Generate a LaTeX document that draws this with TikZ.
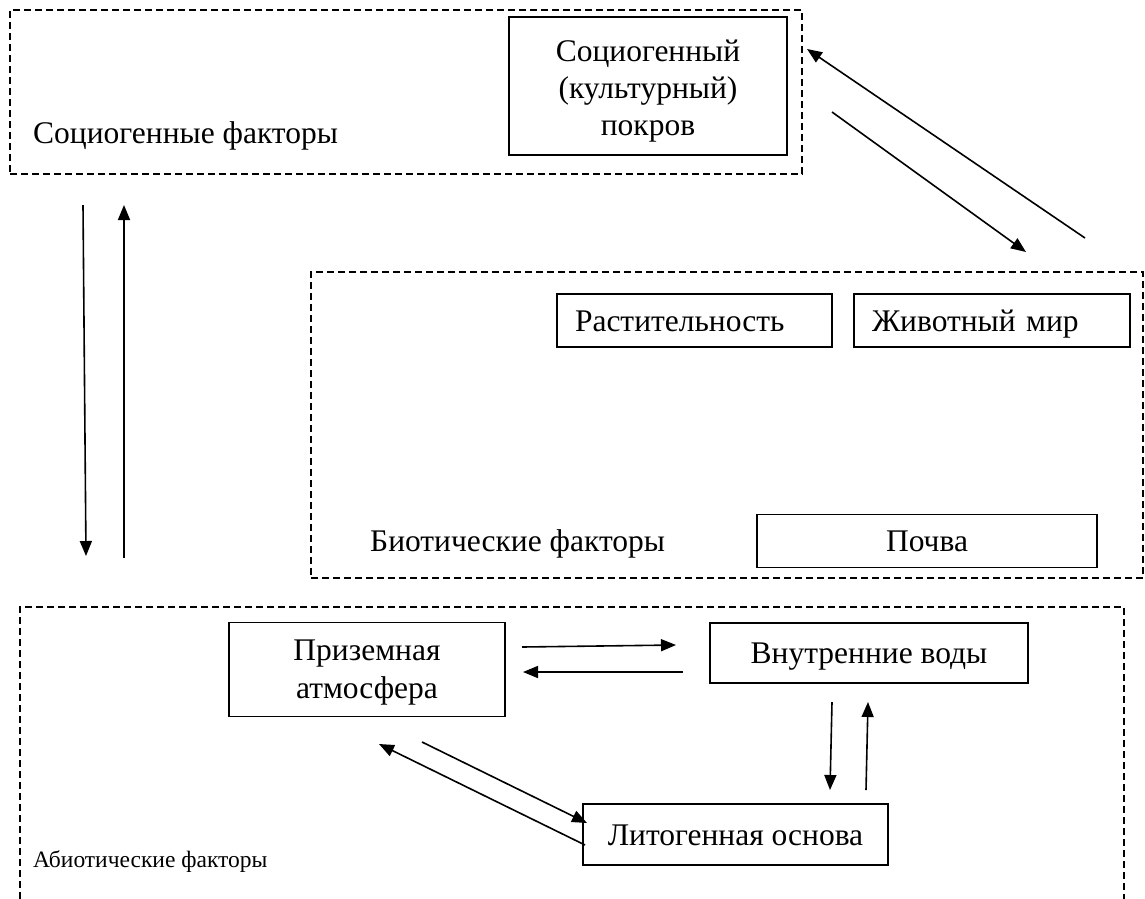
\documentclass[tikz,border=0pt]{standalone}
\usepackage{fontspec}
\setmainfont{Liberation Serif}
\usetikzlibrary{arrows.meta}
\begin{document}
\begin{tikzpicture}[x=1pt,y=-1pt,
  box/.style={draw,line width=1.7pt,inner sep=0pt,align=center,font=\fontsize{31.5}{37.5}\selectfont},
  sbox/.style={box,text height=21pt,text depth=0pt},
  lbox/.style={sbox,align=left,inner xsep=18pt},
  mtext/.style={inner sep=0pt,align=center},
  zone/.style={draw,line width=1.6pt,dash pattern=on 7pt off 4pt,inner sep=0pt},
  lbl/.style={inner sep=0pt,anchor=base west,font=\fontsize{31.5}{37}\selectfont},
  arr/.style={line width=1.6pt,-{Triangle[length=15pt,width=12pt]}}]
\useasboundingbox (0,0) rectangle (1145,898);
\begin{scope}
\clip (0,0) rectangle (1145,898);
% zones
\node[zone,minimum width=792pt,minimum height=164pt] (zsoc) at (406,92) {};
\node[zone,minimum width=832pt,minimum height=306pt] (zbio) at (727,425) {};
\node[zone,minimum width=1104pt,minimum height=400pt] (zabi) at (572,807) {};
\end{scope}
% labels
\node[lbl] (lsoc) at (33,143) {Социогенные факторы};
\node[lbl] (lbio) at (370,551) {Биотические факторы};
\node[lbl,font=\fontsize{23.5}{28}\selectfont] (labi) at (33,867) {Абиотические факторы};
% boxes
\node[box,minimum width=278pt,minimum height=138pt,
  label={[mtext,font=\fontsize{31.5}{37}\selectfont,yshift=-5pt]center:{Социогенный\\(культурный)\\покров}}] (soc) at (648,86) {};
\node[lbox,minimum width=275pt,minimum height=53pt,text width=239pt] (rast) at (694.5,320.5) {Растительность};
\node[lbox,minimum width=276pt,minimum height=53pt,text width=240pt] (ziv) at (992,320.5) {Животный мир};
\node[sbox,minimum width=340pt,minimum height=53pt] (poch) at (927,541) {Почва};
\node[box,minimum width=276pt,minimum height=94pt,
  label={[mtext,font=\fontsize{31.5}{38}\selectfont,yshift=-3.5pt]center:{Приземная\\атмосфера}}] (atm) at (367,669.5) {};
\node[sbox,minimum width=318pt,minimum height=60pt] (vod) at (869,653) {Внутренние воды};
\node[sbox,minimum width=305pt,minimum height=61pt] (lit) at (735.5,834.5) {Литогенная основа};
% arrow end points
\coordinate (a1s) at (1085,238); \coordinate (a1e) at (807,49);
\coordinate (a2s) at (832,112); \coordinate (a2e) at (1026,252);
\coordinate (a3s) at (83,205); \coordinate (a3e) at (86,556);
\coordinate (a4s) at (124,558); \coordinate (a4e) at (124,205);
\coordinate (a5s) at (522,647); \coordinate (a5e) at (676,645);
\coordinate (a6s) at (683,672); \coordinate (a6e) at (523,672);
\coordinate (a7s) at (832,702); \coordinate (a7e) at (830,790);
\coordinate (a8s) at (866,790); \coordinate (a8e) at (868,702);
\coordinate (a9s) at (585,845); \coordinate (a9e) at (379,744);
\coordinate (a10s) at (422,742); \coordinate (a10e) at (587,823);
\foreach \i in {1,...,10} \draw[arr] (a\i s) -- (a\i e);
\end{tikzpicture}
\end{document}
